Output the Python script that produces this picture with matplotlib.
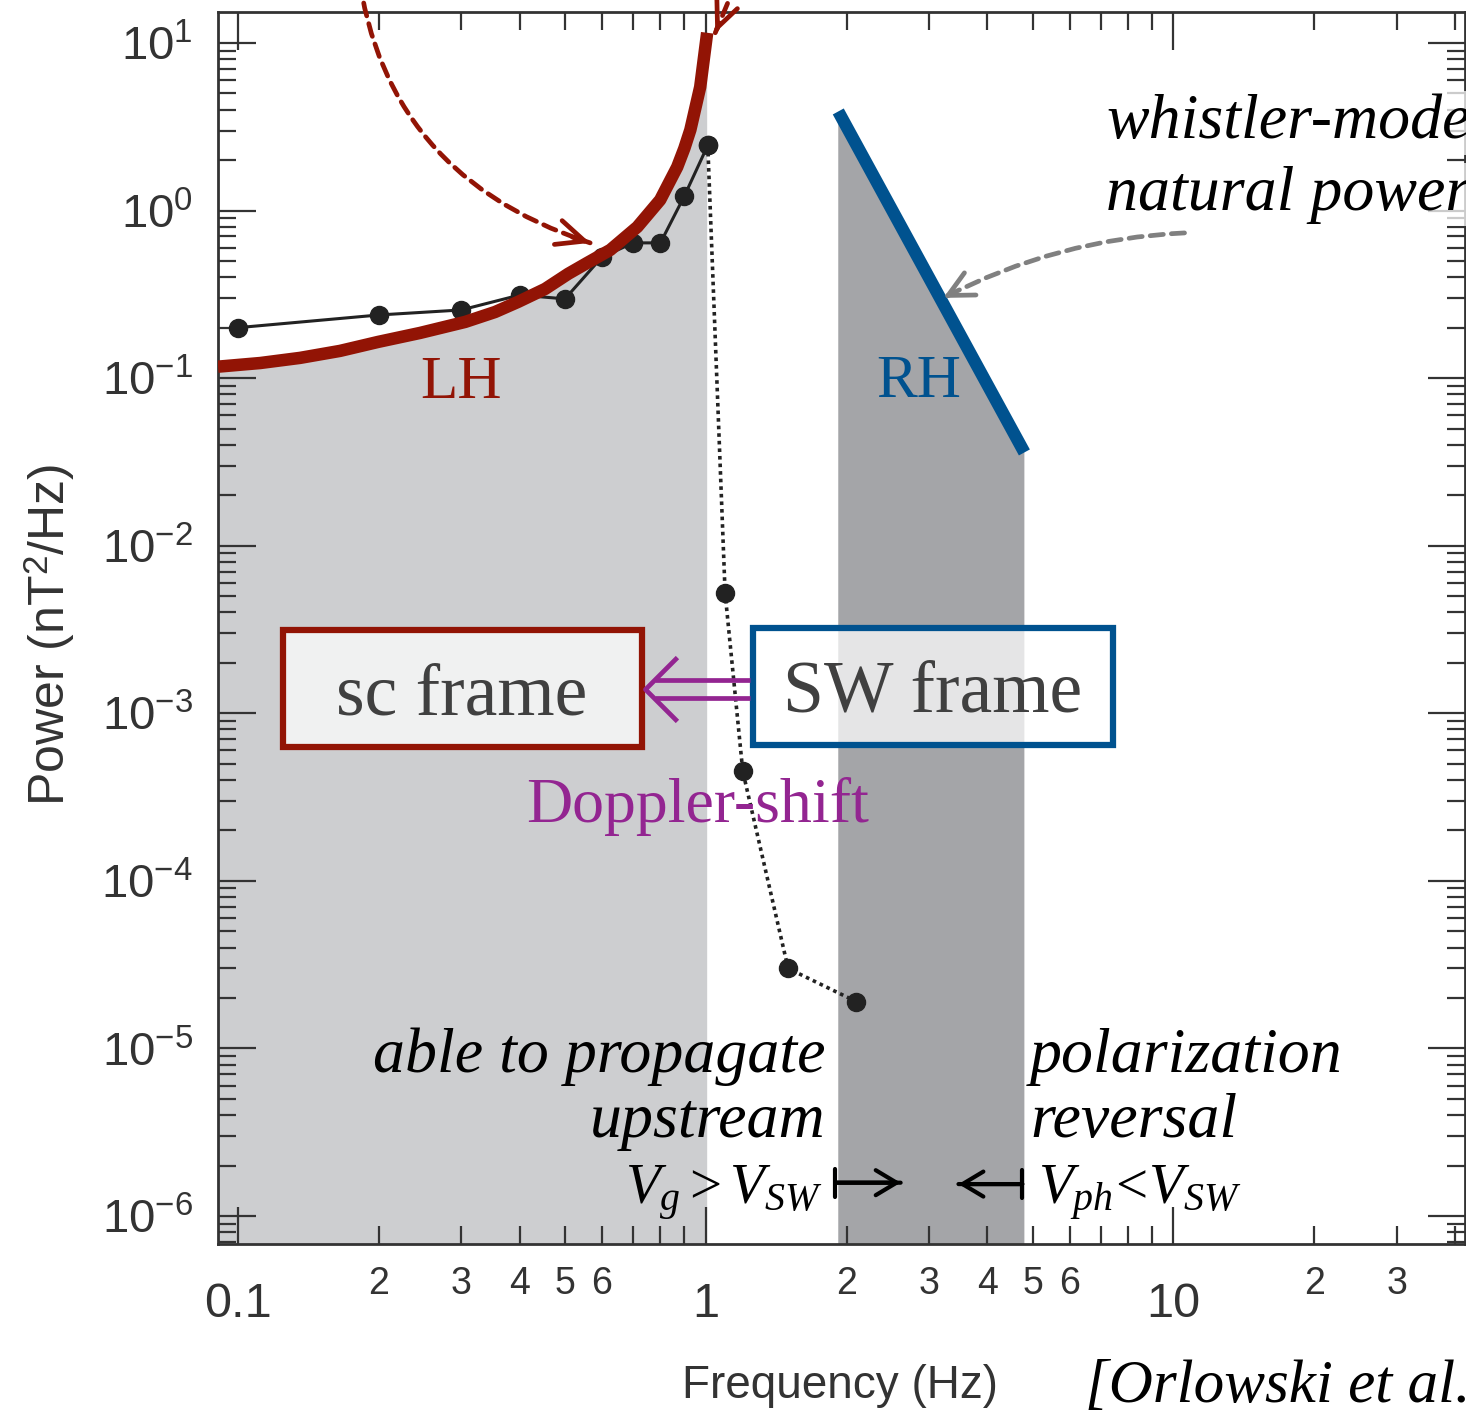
import numpy as np
import matplotlib
matplotlib.use('Agg')
import matplotlib.pyplot as plt
from matplotlib.patches import Rectangle
from matplotlib.path import Path
from matplotlib.ticker import LogLocator, FuncFormatter, NullFormatter

# left-hand polarised branch (sc frame)
lh_freq = [0.0906, 0.1115, 0.1357, 0.1652, 0.1993, 0.245, 0.306, 0.3545, 0.397, 0.4535,
           0.508, 0.558, 0.625, 0.714, 0.799, 0.869, 0.9, 0.927, 0.973, 1.007]
lh_power = [0.117, 0.123, 0.132, 0.1453, 0.1644, 0.186, 0.2164, 0.248, 0.285, 0.3405,
            0.419, 0.487, 0.582, 0.798, 1.157, 1.82, 2.35, 3.03, 5.46, 11.5]

# right-hand whistler-mode natural power (SW frame)
rh_freq = [1.92, 4.8]
rh_power = [3.9, 0.036]

# measured spectrum
obs_freq = [0.1, 0.2, 0.3, 0.4, 0.5, 0.6, 0.7, 0.8, 0.9, 1.01]
obs_power = [0.2, 0.238, 0.255, 0.313, 0.297, 0.528, 0.641, 0.641, 1.22, 2.45]

# steep fall-off above 1 Hz
tail_freq = [1.01, 1.1, 1.2, 1.5, 2.1]
tail_power = [2.45, 5.2e-3, 4.5e-4, 3.0e-5, 1.9e-5]

RED = '#921405'
BLUE = '#00528f'
PURPLE = '#932591'
LIGHT = '#cdced0'
DARK = '#a4a5a8'
INK = '#222222'
AXC = '#333333'
SERIF = 'Liberation Serif'

plt.rcParams['font.family'] = ['Liberation Sans', 'DejaVu Sans']
plt.rcParams['mathtext.fontset'] = 'custom'
plt.rcParams['mathtext.rm'] = 'Liberation Serif'
plt.rcParams['mathtext.it'] = 'Liberation Serif:italic'


def minor_label(v, pos):
    digit = int(round(v / 10 ** np.floor(np.log10(v))))
    return str(digit) if digit <= 6 and v < 35 else ''


def dashed_arrow(ax, start, end, rad, color, lw, head):
    # dashed curved shaft, solid head aligned with the curve end
    ax.annotate('', xy=end, xytext=start, annotation_clip=False,
                arrowprops=dict(arrowstyle='-', color=color, lw=lw, linestyle=(0, (2.8, 1.7)),
                                connectionstyle=f'arc3,rad={rad}', shrinkA=0, shrinkB=0))
    (x1, y1), (x2, y2) = ax.transData.transform([start, end])
    cx = (x1 + x2) / 2 + rad * (y2 - y1)
    cy = (y1 + y2) / 2 - rad * (x2 - x1)
    back = ax.transData.inverted().transform((x2 + 0.08 * (cx - x2), y2 + 0.08 * (cy - y2)))
    ax.annotate('', xy=end, xytext=back, annotation_clip=False,
                arrowprops=dict(arrowstyle=head, color=color, lw=lw, mutation_scale=20,
                                shrinkA=0, shrinkB=0))


def bar_arrow(ax, start, end):
    # |-> style arrow: bar at start, open head at end
    for style in ('->,head_length=0.75,head_width=0.45', ']-,widthA=0.5,lengthA=0'):
        ax.annotate('', xy=end, xytext=start,
                    arrowprops=dict(arrowstyle=style, color='black', lw=3, mutation_scale=20,
                                    shrinkA=0, shrinkB=0))


fig = plt.figure(figsize=(14.66, 14.10), dpi=100)
ax = fig.add_axes([0.1487, 0.1177, 0.8506, 0.8738])
ax.set_xscale('log')
ax.set_yscale('log')
ax.set_xlim(0.0906, 42)
ax.set_ylim(6.8e-7, 15.3)

# shaded propagation regions
ax.fill_between(lh_freq, lh_power, 1e-9, color=LIGHT, lw=0, zorder=0.5)
ax.fill_between(rh_freq, rh_power, 1e-9, color=DARK, lw=0, zorder=0.5)

ax.plot(tail_freq, tail_power, color=INK, lw=2.6, ls=(0, (1, 1.1)), marker='o', ms=13, zorder=2)
ax.plot(obs_freq, obs_power, '-', color=INK, lw=2.2, marker='o', ms=13, zorder=2)
ax.plot(lh_freq, lh_power, color=RED, lw=9, solid_capstyle='butt', solid_joinstyle='round', zorder=3)
ax.plot(rh_freq, rh_power, color=BLUE, lw=9, solid_capstyle='butt', zorder=3)

# axes styling
for sp in ax.spines.values():
    sp.set_linewidth(2)
    sp.set_color(AXC)
ax.xaxis.set_major_locator(LogLocator(base=10))
ax.xaxis.set_minor_locator(LogLocator(base=10, subs=np.arange(2, 10) * 1.0, numticks=50))
ax.yaxis.set_major_locator(LogLocator(base=10, numticks=20))
ax.yaxis.set_minor_locator(LogLocator(base=10, subs=np.arange(2, 10) * 1.0, numticks=50))
ax.xaxis.set_major_formatter(FuncFormatter(lambda v, p: f'{v:g}'))
ax.xaxis.set_minor_formatter(FuncFormatter(minor_label))
ax.yaxis.set_major_formatter(FuncFormatter(lambda v, p: r'$\mathregular{10^{%d}}$' % round(np.log10(v))))
ax.yaxis.set_minor_formatter(NullFormatter())
ax.tick_params(which='both', direction='in', top=True, right=True, color=AXC, width=1.6,
               labelcolor=AXC)
ax.tick_params(which='major', length=27)
ax.tick_params(which='minor', length=13)
ax.tick_params(axis='x', which='major', pad=27, labelsize=35)
ax.tick_params(axis='x', which='minor', pad=16, labelsize=27)
ax.tick_params(axis='y', which='major', pad=18, labelsize=34)

ax.set_xlabel('Frequency (Hz)', fontsize=33, color=AXC)
ax.xaxis.set_label_coords(0.4988, -0.097)
ax.set_ylabel(r'Power (nT$^\mathregular{2}$/Hz)', fontsize=36, color=AXC)
ax.yaxis.set_label_coords(-0.113, 0.494)

# labels for the two polarisations
ax.text(0.3, 0.0762, 'LH', color=RED, fontsize=44, family=SERIF, ha='center', va='baseline', zorder=4)
ax.text(2.85, 0.077, 'RH', color=BLUE, fontsize=44, family=SERIF, ha='center', va='baseline', zorder=4)

for txt, p in [('whistler-mode', 2.71), ('natural power', 1.008)]:
    ax.text(7.18, p, txt, fontsize=46, family=SERIF, style='italic', ha='left', va='baseline',
            zorder=4, bbox=dict(facecolor='white', alpha=0.75, edgecolor='none', pad=2))
for txt, p in [('able to propagate', 7.24e-6), ('upstream', 2.97e-6)]:
    ax.text(1.80, p, txt, fontsize=46, family=SERIF, style='italic', ha='right', va='baseline', zorder=4)
for txt, p in [('polarization', 7.24e-6), ('reversal', 2.97e-6)]:
    ax.text(4.94, p, txt, fontsize=46, family=SERIF, style='italic', ha='left', va='baseline', zorder=4)

ax.text(1.775, 1.17e-6, r'$V_g > V_{SW}$', fontsize=41, ha='right', va='baseline', zorder=4)
ax.text(5.14, 1.17e-6, r'$V_{ph}\!<\!V_{SW}$', fontsize=41, ha='left', va='baseline', zorder=4)
bar_arrow(ax, (1.89, 1.58e-6), (2.61, 1.58e-6))
bar_arrow(ax, (4.75, 1.55e-6), (3.47, 1.55e-6))

# reference-frame boxes
ax.add_patch(Rectangle((0.1245, 6.3e-4), 0.605, 2.5e-3, facecolor=(1, 1, 1, 0.72),
                       edgecolor=RED, lw=4.5, zorder=4))
ax.add_patch(Rectangle((1.26, 6.5e-4), 6.16, 2.57e-3, facecolor=(1, 1, 1, 0.72),
                       edgecolor=BLUE, lw=4.5, zorder=4))
ax.text(0.301, 9.8e-4, 'sc frame', fontsize=53, family=SERIF, color='#404040', ha='center',
        va='baseline', zorder=5)
ax.text(3.05, 1.02e-3, 'SW frame', fontsize=53, family=SERIF, color='#404040', ha='center',
        va='baseline', zorder=5)

# Doppler-shift double arrow
ax.hlines([1.58e-3, 1.236e-3], 0.78, 1.245, color=PURPLE, lw=3.4, zorder=4)
chevron = Path([(1, 1), (0, 0), (1, -1)], [Path.MOVETO, Path.LINETO, Path.LINETO])
ax.plot([0.742], [1.40e-3], marker=chevron, ms=46, mfc='none', mec=PURPLE, mew=3.4, zorder=4)
ax.text(0.959, 2.25e-4, 'Doppler-shift', fontsize=46, family=SERIF, color=PURPLE, ha='center',
        va='baseline', zorder=4)

# pointer arrows
dashed_arrow(ax, (0.178, 41.2), (0.566, 0.641), 0.34, RED, 3.4,
             '->,head_length=1.0,head_width=0.45')
dashed_arrow(ax, (1.308, 50.6), (1.048, 11.5), 0.0, RED, 3.4,
             '->,head_length=0.9,head_width=0.4')
dashed_arrow(ax, (10.56, 0.735), (3.221, 0.301), 0.11, '#808080', 3.4,
             '->,head_length=0.9,head_width=0.45')

fig.text(1085 / 1466, 8 / 1410, '[Orlowski et al.]', fontsize=44, family=SERIF, style='italic',
         ha='left', va='baseline')

fig.savefig('out.png', dpi=100)
